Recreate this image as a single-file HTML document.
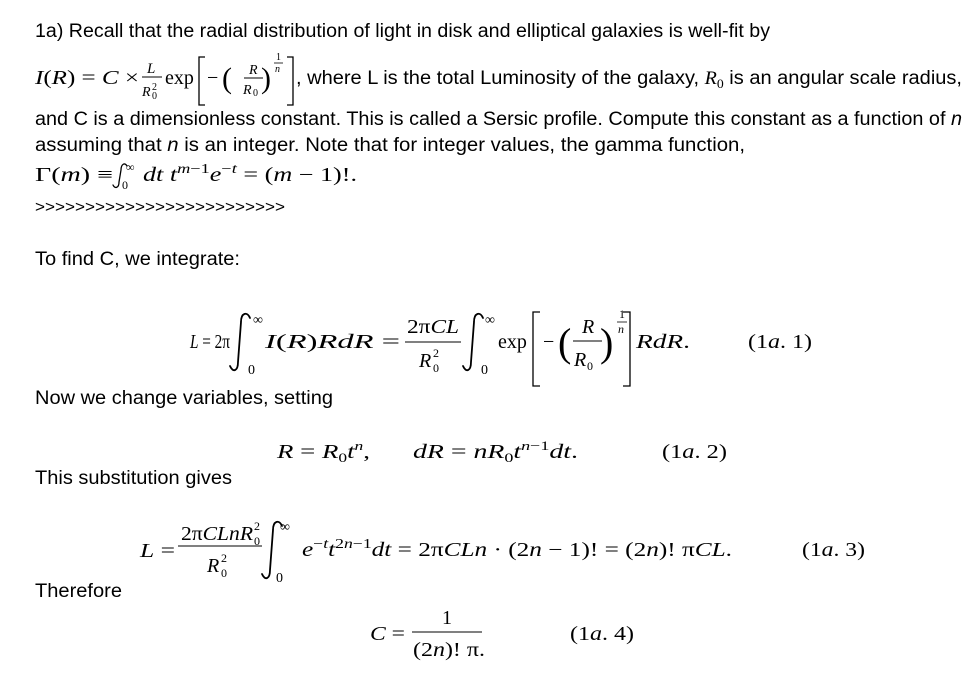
<!DOCTYPE html>
<html><head><meta charset="utf-8"><style>
html,body{margin:0;padding:0;background:#fff;}
svg{display:block;}
.t{font-family:"Liberation Sans",sans-serif;font-size:19px;fill:#000;}
.m{font-family:"Liberation Serif",serif;font-size:20px;fill:#000;}
.i{font-style:italic;}
.s{font-size:13px;}
.int{fill:none;stroke:#000;stroke-width:1.8;stroke-linecap:round;}
</style></head><body>
<svg width="974" height="684" viewBox="0 0 974 684" xmlns="http://www.w3.org/2000/svg">
<text class="t" x="35" y="37" textLength="735" lengthAdjust="spacingAndGlyphs">1a) Recall that the radial distribution of light in disk and elliptical galaxies is well-fit by</text>
<!-- line 2 formula -->
<text class="m" x="35" y="84" textLength="104" lengthAdjust="spacingAndGlyphs"><tspan class="i">I</tspan>(<tspan class="i">R</tspan>) = <tspan class="i">C</tspan> ×</text>
<text class="m i" x="147" y="73" style="font-size:15px">L</text>
<line x1="142" y1="77" x2="162" y2="77" stroke="#000" stroke-width="1"/>
<text class="m i" x="142" y="96" style="font-size:14px">R</text><text class="m" x="152" y="90" style="font-size:10px">2</text><text class="m" x="152" y="99" style="font-size:10px">0</text>
<text class="m" x="165" y="84">exp</text>
<path d="M205 57 H199 V105 H205" fill="none" stroke="#000" stroke-width="1.3"/>
<text class="m" x="207" y="84">−</text>
<text class="m" x="222" y="88" style="font-size:30px">(</text>
<text class="m i" x="249" y="74" style="font-size:14px">R</text>
<line x1="244" y1="78" x2="263" y2="78" stroke="#000" stroke-width="1"/>
<text class="m i" x="243" y="94" style="font-size:14px">R</text><text class="m" x="253" y="96" style="font-size:10px">0</text>
<text class="m" x="261" y="88" style="font-size:30px">)</text>
<text class="m" x="276" y="60" style="font-size:10px">1</text>
<line x1="274" y1="63" x2="283" y2="63" stroke="#000" stroke-width="0.8"/>
<text class="m i" x="275" y="72" style="font-size:10px">n</text>
<path d="M287 57 H293 V105 H287" fill="none" stroke="#000" stroke-width="1.3"/>
<text class="t" x="296" y="84" textLength="666" lengthAdjust="spacingAndGlyphs">, where L is the total Luminosity of the galaxy, <tspan font-family="Liberation Serif" font-style="italic">R</tspan><tspan font-family="Liberation Serif" font-size="13" dy="4">0</tspan><tspan dy="-4"> is an angular scale radius,</tspan></text>
<text class="t" x="35" y="125" textLength="927" lengthAdjust="spacingAndGlyphs">and C is a dimensionless constant. This is called a Sersic profile. Compute this constant as a function of <tspan font-style="italic">n</tspan></text>
<text class="t" x="35" y="151" textLength="710" lengthAdjust="spacingAndGlyphs">assuming that <tspan font-style="italic">n</tspan> is an integer. Note that for integer values, the gamma function,</text>
<!-- line 5 -->
<text class="m" x="35" y="181" textLength="78" lengthAdjust="spacingAndGlyphs">Γ(<tspan class="i">m</tspan>) ≡</text>
<path class="int" style="stroke-width:1.3" d="M127 166 C125 162 121 164 121 170 L119 182 C119 188 115 189 113 185"/>
<text class="m" x="126" y="171" style="font-size:12px">∞</text>
<text class="m" x="122" y="189" style="font-size:12px">0</text>
<text class="m" x="143" y="181" textLength="214" lengthAdjust="spacingAndGlyphs"><tspan class="i">dt t</tspan><tspan class="i" font-size="14" dy="-8">m</tspan><tspan font-size="14">−1</tspan><tspan class="i" dy="8">e</tspan><tspan font-size="14" dy="-8">−</tspan><tspan class="i" font-size="14">t</tspan><tspan dy="8"> = (</tspan><tspan class="i">m</tspan> − 1)!.</text>
<text class="t" x="35" y="212" textLength="250" lengthAdjust="spacingAndGlyphs" style="font-size:16px">&gt;&gt;&gt;&gt;&gt;&gt;&gt;&gt;&gt;&gt;&gt;&gt;&gt;&gt;&gt;&gt;&gt;&gt;&gt;&gt;&gt;&gt;&gt;&gt;&gt;</text>
<text class="t" x="35" y="265" textLength="205" lengthAdjust="spacingAndGlyphs">To find C, we integrate:</text>
<!-- eq 1.1 -->
<text class="m" x="190" y="348" textLength="40" lengthAdjust="spacingAndGlyphs"><tspan class="i">L</tspan> = 2π</text>
<path class="int" d="M250 318 C247 311 241 313 241 322 L238 362 C238 371 233 373 230 366"/>
<text class="m" x="253" y="324" style="font-size:14px">∞</text>
<text class="m" x="248" y="374" style="font-size:14px">0</text>
<text class="m" x="265" y="348" textLength="135" lengthAdjust="spacingAndGlyphs"><tspan class="i">I</tspan>(<tspan class="i">R</tspan>)<tspan class="i">RdR</tspan> =</text>
<text class="m" x="407" y="333" textLength="52" lengthAdjust="spacingAndGlyphs">2π<tspan class="i">CL</tspan></text>
<line x1="405" y1="342" x2="461" y2="342" stroke="#000" stroke-width="1"/>
<text class="m i" x="419" y="367">R</text><text class="m" x="433" y="357" style="font-size:12px">2</text><text class="m" x="433" y="372" style="font-size:12px">0</text>
<path class="int" d="M483 318 C480 311 474 313 474 322 L471 362 C471 371 466 373 463 366"/>
<text class="m" x="485" y="324" style="font-size:14px">∞</text>
<text class="m" x="481" y="374" style="font-size:14px">0</text>
<text class="m" x="498" y="348">exp</text>
<path d="M540 312 H533 V386 H540" fill="none" stroke="#000" stroke-width="1.3"/>
<text class="m" x="543" y="348">−</text>
<text class="m" x="558" y="356" style="font-size:40px">(</text>
<text class="m i" x="582" y="333">R</text>
<line x1="573" y1="341" x2="602" y2="341" stroke="#000" stroke-width="1"/>
<text class="m i" x="574" y="366">R</text><text class="m" x="587" y="370" style="font-size:12px">0</text>
<text class="m" x="600" y="356" style="font-size:40px">)</text>
<text class="m" x="619" y="318" style="font-size:12px">1</text>
<line x1="617" y1="322" x2="627" y2="322" stroke="#000" stroke-width="0.8"/>
<text class="m i" x="618" y="333" style="font-size:12px">n</text>
<path d="M623 312 H630 V386 H623" fill="none" stroke="#000" stroke-width="1.3"/>
<text class="m i" x="636" y="348" textLength="54" lengthAdjust="spacingAndGlyphs">RdR<tspan font-style="normal">.</tspan></text>
<text class="m" x="748" y="348" textLength="64" lengthAdjust="spacingAndGlyphs">(1<tspan class="i">a</tspan>. 1)</text>
<text class="t" x="35" y="404" textLength="298" lengthAdjust="spacingAndGlyphs">Now we change variables, setting</text>
<!-- eq 1.2 -->
<text class="m" x="277" y="458" textLength="93" lengthAdjust="spacingAndGlyphs"><tspan class="i">R</tspan> = <tspan class="i">R</tspan><tspan font-size="13" dy="4">0</tspan><tspan class="i" dy="-4">t</tspan><tspan class="i" font-size="13" dy="-8">n</tspan><tspan dy="8">,</tspan></text>
<text class="m" x="413" y="458" textLength="165" lengthAdjust="spacingAndGlyphs"><tspan class="i">dR</tspan> = <tspan class="i">nR</tspan><tspan font-size="13" dy="4">0</tspan><tspan class="i" dy="-4">t</tspan><tspan class="i" font-size="13" dy="-8">n</tspan><tspan font-size="13">−1</tspan><tspan class="i" dy="8">dt</tspan>.</text>
<text class="m" x="662" y="458" textLength="65" lengthAdjust="spacingAndGlyphs">(1<tspan class="i">a</tspan>. 2)</text>
<text class="t" x="35" y="484" textLength="197" lengthAdjust="spacingAndGlyphs">This substitution gives</text>
<!-- eq 1.3 -->
<text class="m" x="140" y="557" textLength="35" lengthAdjust="spacingAndGlyphs"><tspan class="i">L</tspan> =</text>
<text class="m" x="181" y="540" textLength="72" lengthAdjust="spacingAndGlyphs">2π<tspan class="i">CLnR</tspan></text>
<text class="m" x="254" y="530" style="font-size:12px">2</text><text class="m" x="254" y="545" style="font-size:12px">0</text>
<line x1="178" y1="546" x2="262" y2="546" stroke="#000" stroke-width="1"/>
<text class="m i" x="207" y="572">R</text><text class="m" x="221" y="562" style="font-size:12px">2</text><text class="m" x="221" y="577" style="font-size:12px">0</text>
<path class="int" d="M282 526 C279 519 273 521 273 530 L270 570 C270 579 265 581 262 574"/>
<text class="m" x="280" y="531" style="font-size:14px">∞</text>
<text class="m" x="276" y="582" style="font-size:14px">0</text>
<text class="m" x="302" y="556" textLength="430" lengthAdjust="spacingAndGlyphs"><tspan class="i">e</tspan><tspan font-size="14" dy="-8">−</tspan><tspan class="i" font-size="14">t</tspan><tspan class="i" dy="8">t</tspan><tspan font-size="14" dy="-8">2</tspan><tspan class="i" font-size="14">n</tspan><tspan font-size="14">−1</tspan><tspan class="i" dy="8">dt</tspan> = 2π<tspan class="i">CLn</tspan> · (2<tspan class="i">n</tspan> − 1)! = (2<tspan class="i">n</tspan>)! π<tspan class="i">CL</tspan>.</text>
<text class="m" x="802" y="556" textLength="63" lengthAdjust="spacingAndGlyphs">(1<tspan class="i">a</tspan>. 3)</text>
<text class="t" x="35" y="597" textLength="87" lengthAdjust="spacingAndGlyphs">Therefore</text>
<!-- eq 1.4 -->
<text class="m" x="370" y="640" textLength="35" lengthAdjust="spacingAndGlyphs"><tspan class="i">C</tspan> =</text>
<text class="m" x="442" y="624">1</text>
<line x1="412" y1="632" x2="482" y2="632" stroke="#000" stroke-width="1"/>
<text class="m" x="413" y="656" textLength="72" lengthAdjust="spacingAndGlyphs">(2<tspan class="i">n</tspan>)! π.</text>
<text class="m" x="570" y="640" textLength="64" lengthAdjust="spacingAndGlyphs">(1<tspan class="i">a</tspan>. 4)</text>
</svg>
</body></html>
